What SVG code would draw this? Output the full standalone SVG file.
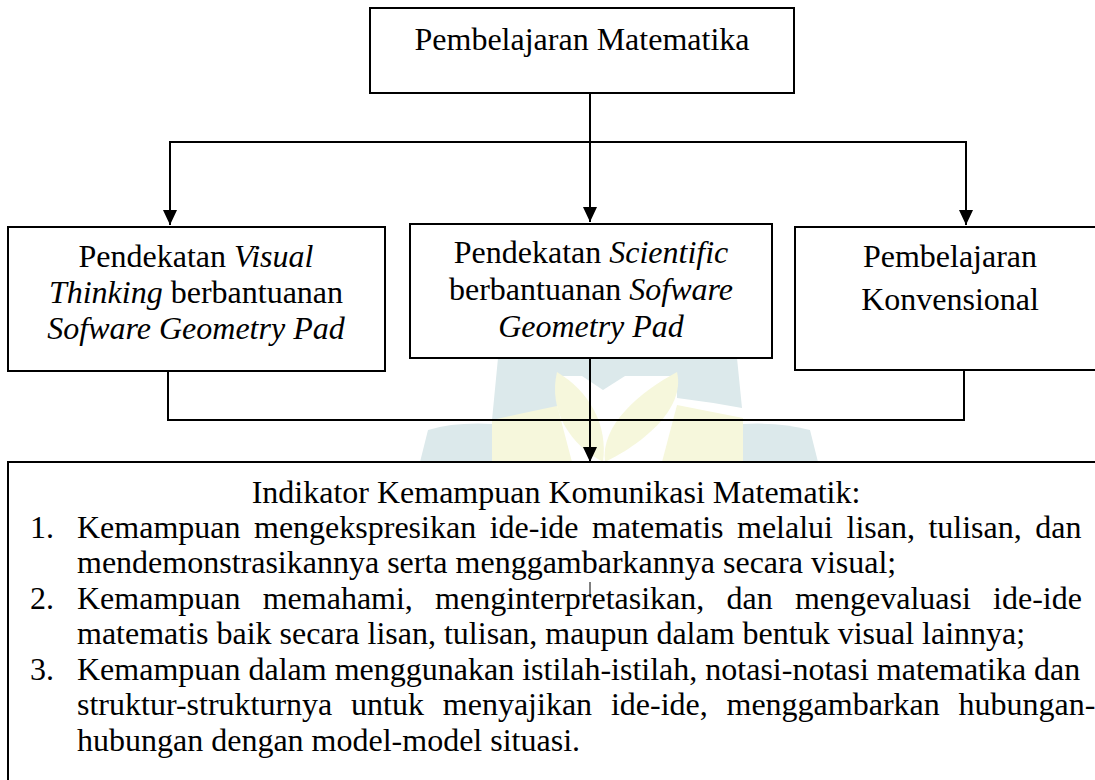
<svg xmlns="http://www.w3.org/2000/svg" width="1095" height="780" viewBox="0 0 1095 780">
  <defs>
    <marker id="arrow" markerUnits="userSpaceOnUse" markerWidth="15" markerHeight="14" refX="15" refY="7" orient="auto">
      <path d="M0,0 L15,7 L0,14 Z" fill="#000"/>
    </marker>
    <style>
      .box { fill: #fff; stroke: #000; stroke-width: 2; }
      .con { fill: none; stroke: #000; stroke-width: 2; }
      .t { font-family: "Liberation Serif", "Times New Roman", serif; font-size: 32px; fill: #000; }
      .c { text-anchor: middle; }
      .i { font-style: italic; }
      .wt { fill: #dce9eb; }
      .wy { fill: #f6f7dc; }
    </style>
  </defs>
  <rect width="1095" height="780" fill="#fff"/>

  <g id="watermark">
    <path class="wy" d="M492,418 L557,405 L572,462 L492,462 Z"/>
    <path class="wy" d="M677,405 L743,418 L743,462 L662,462 Z"/>
    <path class="wt" d="M498,358 L557,358 L557,406 Q528,412 492,420 Z"/>
    <path class="wt" d="M677,358 L737,358 L742,408 Q710,402 677,398 Z"/>
    <path class="wt" d="M557,352 H677 V376 L625,376 L603,390 L582,376 H557 Z"/>
    <path class="wt" d="M420,462 L428,430 Q455,422 492,424 L492,462 Z"/>
    <path class="wt" d="M743,424 Q780,422 810,430 L818,462 L743,462 Z"/>
    <path class="wy" d="M557,372 C548,410 570,445 603,462 C608,425 590,392 557,372 Z"/>
    <path class="wy" d="M677,372 C686,410 640,445 605,462 C600,425 640,392 677,372 Z"/>
  </g>

  <g id="connectors">
    <line class="con" x1="590" y1="93" x2="590" y2="142"/>
    <line class="con" x1="169" y1="142" x2="967" y2="142"/>
    <line class="con" x1="170" y1="142" x2="170" y2="225" marker-end="url(#arrow)"/>
    <line class="con" x1="590" y1="142" x2="590" y2="222" marker-end="url(#arrow)"/>
    <line class="con" x1="966" y1="142" x2="966" y2="225" marker-end="url(#arrow)"/>
    <polyline class="con" points="168,371 168,420 964,420 964,370"/>
    <line class="con" x1="590" y1="358" x2="590" y2="462" marker-end="url(#arrow)"/>
  </g>

  <g id="node-top">
    <rect class="box" x="370" y="8" width="424" height="85"/>
    <text class="t c" x="582" y="50">Pembelajaran Matematika</text>
  </g>

  <g id="node-visual">
    <rect class="box" x="8" y="227" width="377" height="144"/>
    <text class="t c" x="196" y="267">Pendekatan <tspan class="i">Visual</tspan></text>
    <text class="t c" x="196" y="303"><tspan class="i">Thinking</tspan> berbantuanan</text>
    <text class="t c i" x="196" y="339">Sofware Geometry Pad</text>
  </g>

  <g id="node-scientific">
    <rect class="box" x="410" y="224" width="362" height="134"/>
    <text class="t c" x="591" y="263">Pendekatan <tspan class="i">Scientific</tspan></text>
    <text class="t c" x="591" y="300">berbantuanan <tspan class="i">Sofware</tspan></text>
    <text class="t c i" x="591" y="337">Geometry Pad</text>
  </g>

  <g id="node-konvensional">
    <rect class="box" x="795" y="227" width="312" height="143"/>
    <text class="t c" x="950" y="267">Pembelajaran</text>
    <text class="t c" x="950" y="310">Konvensional</text>
  </g>

  <g id="node-indikator">
    <rect class="box" x="8" y="462" width="1098" height="330"/>
    <text class="t c" x="556" y="503">Indikator Kemampuan Komunikasi Matematik:</text>
    <text class="t" x="30" y="538">1.</text>
    <text class="t" x="77" y="538" word-spacing="5.5">Kemampuan mengekspresikan ide-ide matematis melalui lisan, tulisan, dan</text>
    <text class="t" x="77" y="573">mendemonstrasikannya serta menggambarkannya secara visual;</text>
    <text class="t" x="30" y="609">2.</text>
    <text class="t" x="77" y="609" word-spacing="14.2">Kemampuan memahami, menginterpretasikan, dan mengevaluasi ide-ide</text>
    <text class="t" x="77" y="644">matematis baik secara lisan, tulisan, maupun dalam bentuk visual lainnya;</text>
    <text class="t" x="30" y="680">3.</text>
    <text class="t" x="77" y="680">Kemampuan dalam menggunakan istilah-istilah, notasi-notasi matematika dan</text>
    <text class="t" x="77" y="715" word-spacing="10.8">struktur-strukturnya untuk menyajikan ide-ide, menggambarkan hubungan-</text>
    <text class="t" x="77" y="751">hubungan dengan model-model situasi.</text>
    <line x1="590" y1="582" x2="590" y2="597" stroke="#000" stroke-width="1"/>
  </g>
</svg>
